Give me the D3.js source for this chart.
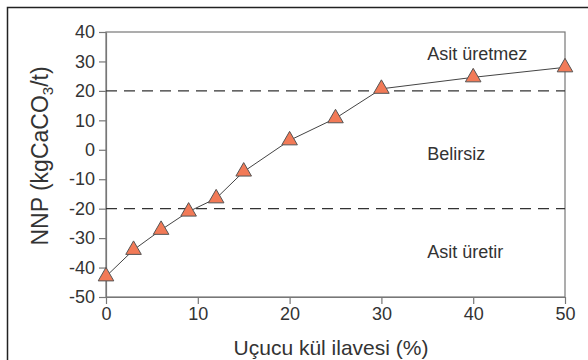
<!DOCTYPE html>
<html>
<head>
<meta charset="utf-8">
<script src="https://cdn.jsdelivr.net/npm/d3@7"></script>
<style>
    body { margin: 0; background: #fff; }
    svg { display: block; font-family: 'Liberation Sans', Arial, sans-serif; }
</style>
</head>
<body>
<svg id="chart" width="588" height="360"></svg>
<script>
// fly ash addition (%) vs NNP (kgCaCO3/t)
var flyAsh = [0, 3, 6, 9, 12, 15, 20, 25, 30, 40, 50];
var nnp = [-43, -34, -27.2, -21, -16.5, -7.4, 3.2, 10.7, 20.7, 24.6, 28];
var xTicks = [0, 10, 20, 30, 40, 50];
var yTicks = [40, 30, 20, 10, 0, -10, -20, -30, -40, -50];
var limits = [20, -20];
var zoneLabels = ['Asit üretmez', 'Belirsiz', 'Asit üretir'];
var zoneLabelY = [30.5, -3.5, -36.8];

var svg = d3.select('#chart');
var margin = { left: 106, top: 32, right: 23, bottom: 63 };
var width = 588 - margin.left - margin.right,
    height = 360 - margin.top - margin.bottom;

// outer frame (runs off the right and bottom edge)
svg.append('rect')
    .attr('x', 7.5).attr('y', 7.5)
    .attr('width', 600).attr('height', 400)
    .attr('fill', 'none')
    .attr('stroke', '#222')
    .attr('stroke-width', 1.5);

var g = svg.append('g')
    .attr('transform', 'translate(' + margin.left + ',' + margin.top + ')');

var x = d3.scaleLinear().domain([0, 50]).range([0, width]);
var y = d3.scaleLinear().domain([-50, 40]).range([height, 0]);

// plain hyphen for negatives, like the original
var fmt = function(d) { return String(d); };

// plot box
g.append('rect')
    .attr('width', width).attr('height', height)
    .attr('fill', 'none')
    .attr('stroke', '#777')
    .attr('stroke-width', 1.2);

var xAxis = g.append('g')
    .attr('transform', 'translate(0,' + height + ')')
    .call(d3.axisBottom(x).tickValues(xTicks).tickFormat(fmt)
        .tickSize(7).tickSizeOuter(0).tickPadding(3));

var yAxis = g.append('g')
    .call(d3.axisLeft(y).tickValues(yTicks).tickFormat(fmt)
        .tickSize(7).tickSizeOuter(0).tickPadding(4));

[xAxis, yAxis].forEach(function(a) {
    a.select('.domain').attr('stroke', '#777').attr('stroke-width', 1.2);
    a.selectAll('.tick line').attr('stroke', '#777').attr('stroke-width', 1.2);
    a.selectAll('.tick text')
        .attr('fill', '#333')
        .style('font-size', '18px')
        .style('font-family', "'Liberation Sans', Arial, sans-serif");
});

// dashed class limits
g.selectAll('.limit')
    .data(limits)
    .enter()
    .append('line')
    .attr('class', 'limit')
    .attr('x1', 0).attr('x2', width)
    .attr('y1', function(d) { return y(d); })
    .attr('y2', function(d) { return y(d); })
    .attr('stroke', '#333')
    .attr('stroke-width', 1.3)
    .attr('stroke-dasharray', '11,7');

// zone labels
g.selectAll('.zone')
    .data(zoneLabels)
    .enter()
    .append('text')
    .attr('class', 'zone')
    .attr('x', x(35))
    .attr('y', function(d, i) { return y(zoneLabelY[i]); })
    .attr('fill', '#333')
    .style('font-size', '18px')
    .text(function(d) { return d; });

var points = flyAsh.map(function(v, i) { return [v, nnp[i]]; });

g.append('path')
    .datum(points)
    .attr('fill', 'none')
    .attr('stroke', '#444')
    .attr('stroke-width', 1)
    .attr('d', d3.line()
        .x(function(d) { return x(d[0]); })
        .y(function(d) { return y(d[1]); }));

g.selectAll('.marker')
    .data(points)
    .enter()
    .append('path')
    .attr('class', 'marker')
    .attr('transform', function(d) {
        return 'translate(' + x(d[0]) + ',' + y(d[1]) + ')';
    })
    .attr('d', d3.symbol().type(d3.symbolTriangle).size(105))
    .attr('fill', '#f27a57')
    .attr('stroke', '#555')
    .attr('stroke-width', 1);

// axis titles
svg.append('text')
    .attr('x', 331).attr('y', 355)
    .attr('text-anchor', 'middle')
    .attr('fill', '#333')
    .style('font-size', '21px')
    .text('Uçucu kül ilavesi (%)');

var yTitle = svg.append('text')
    .attr('transform', 'translate(48,156) rotate(-90)')
    .attr('text-anchor', 'middle')
    .attr('fill', '#333')
    .style('font-size', '23px');
yTitle.append('tspan').text('NNP (kgCaCO');
yTitle.append('tspan').attr('dy', 5).style('font-size', '15px').text('3');
yTitle.append('tspan').attr('dy', -5).text('/t)');
</script>
</body>
</html>
